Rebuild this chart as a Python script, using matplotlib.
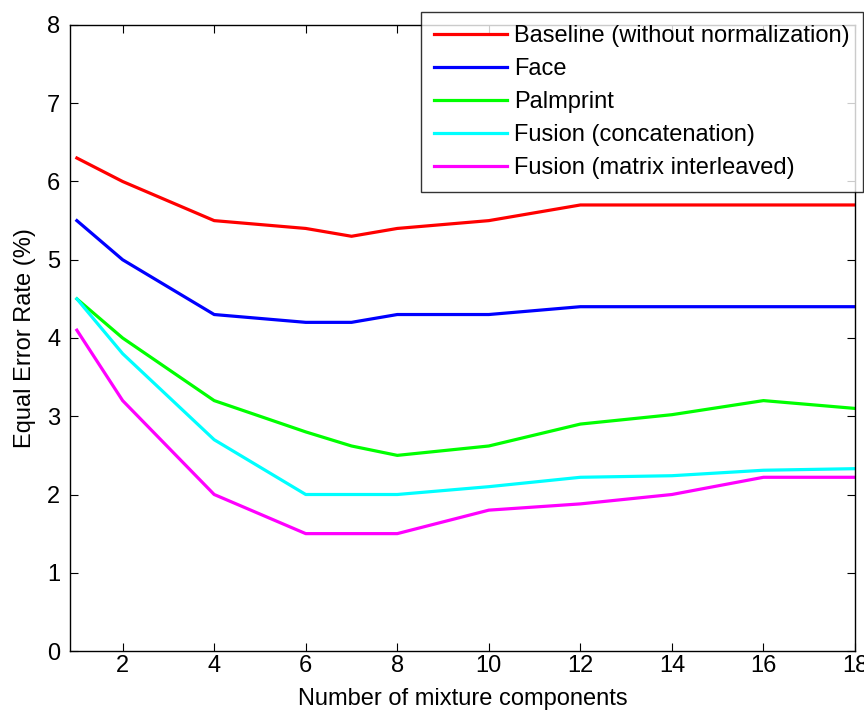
import matplotlib
matplotlib.use('Agg')
import matplotlib.pyplot as plt

plt.rcParams['font.family'] = ['Liberation Sans', 'DejaVu Sans']

# number of mixture components
x = [1, 2, 4, 6, 7, 8, 10, 12, 14, 16, 18]

# equal error rate (%) per method
baseline = [6.3, 6.0, 5.5, 5.4, 5.3, 5.4, 5.5, 5.7, 5.7, 5.7, 5.7]
face = [5.5, 5.0, 4.3, 4.2, 4.2, 4.3, 4.3, 4.4, 4.4, 4.4, 4.4]
palmprint = [4.5, 4.0, 3.2, 2.8, 2.62, 2.5, 2.62, 2.9, 3.02, 3.2, 3.1]
fusion_concat = [4.5, 3.8, 2.7, 2.0, 2.0, 2.0, 2.1, 2.22, 2.24, 2.31, 2.33]
fusion_matrix = [4.1, 3.2, 2.0, 1.5, 1.5, 1.5, 1.8, 1.88, 2.0, 2.22, 2.22]

labels = ['Baseline (without normalization)', 'Face', 'Palmprint',
          'Fusion (concatenation)', 'Fusion (matrix interleaved)']
colors = ['#ff0000', '#0000ff', '#00ff00', '#00ffff', '#ff00ff']

fig = plt.figure(figsize=(8.64, 7.13), dpi=100)
ax = fig.add_axes([70/864, 1-651/713, (855-70)/864, (651-25)/713])

for y, lab, c in zip([baseline, face, palmprint, fusion_concat, fusion_matrix], labels, colors):
    ax.plot(x, y, color=c, linewidth=2.3, label=lab)

ax.set_xlim(0.85, 18)
ax.set_ylim(0, 8)
ax.set_xticks(range(2, 19, 2))
ax.set_yticks(range(0, 9))
ax.tick_params(direction='in', top=True, right=True, labelsize=17, length=6, width=0.8)
ax.tick_params(axis='x', pad=3)
ax.tick_params(axis='y', pad=7)
for s in ax.spines.values():
    s.set_linewidth(1.0)

ax.set_xlabel('Number of mixture components', fontsize=17, labelpad=8)
ax.set_ylabel('Equal Error Rate (%)', fontsize=17, labelpad=8)

leg = ax.legend(loc='upper right', bbox_to_anchor=(863/864, 1-12/713), bbox_transform=fig.transFigure,
                fontsize=17, frameon=True, fancybox=False, borderaxespad=0, handlelength=3.1,
                handletextpad=0.3, labelspacing=0.47, borderpad=0.55)
leg.get_frame().set_edgecolor('black')
leg.get_frame().set_linewidth(1.0)

fig.savefig('out.png', dpi=100)
